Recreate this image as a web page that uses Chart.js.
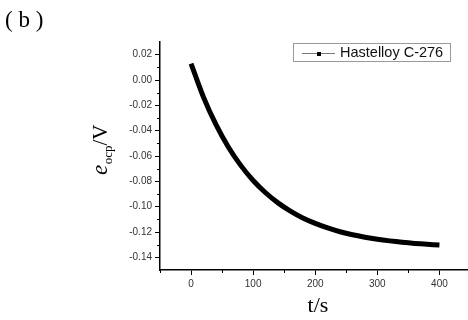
<!DOCTYPE html>
<html>
<head>
<meta charset="utf-8">
<script src="https://cdn.jsdelivr.net/npm/chart.js@4/dist/chart.umd.min.js"></script>
<style>
html,body{margin:0;padding:0;background:#fff;}
canvas{display:block;}
</style>
</head>
<body>
<canvas id="c" width="468" height="320"></canvas>
<script>
// Data
const seriesName = "Hastelloy C-276";
const tValues = [0, 20, 40, 60, 80, 100, 120, 140, 160, 180, 200, 220, 240, 260, 280, 300, 320, 340, 360, 380, 400];
const eValues = [0.013, -0.0135, -0.0351, -0.0529, -0.0674, -0.0793, -0.0890, -0.0970, -0.1035, -0.1089, -0.1132, -0.1168, -0.1198, -0.1222, -0.1241, -0.1257, -0.1270, -0.1281, -0.1290, -0.1297, -0.1303];
const xMajorTicks = [0, 100, 200, 300, 400];
const xMinorTicks = [-50, 50, 150, 250, 350];
const yMajorTicks = [0.02, 0.00, -0.02, -0.04, -0.06, -0.08, -0.10, -0.12, -0.14];
const yMinorTicks = [0.01, -0.01, -0.03, -0.05, -0.07, -0.09, -0.11, -0.13];
const xRange = [-50, 446];
const yRange = [-0.15, 0.03];
const xTitle = "t/s";
const panelLabel = "( b )";

const points = tValues.map((t, i) => ({x: t, y: eValues[i]}));

const decor = {
  id: 'decor',
  afterDraw(chart) {
    const ctx = chart.ctx;
    const xs = chart.scales.x, ys = chart.scales.y;
    const area = chart.chartArea;
    ctx.save();
    // minor ticks
    ctx.strokeStyle = '#000';
    ctx.lineWidth = 1;
    xMinorTicks.forEach(v => {
      const px = Math.round(xs.getPixelForValue(v)) + 0.5;
      ctx.beginPath(); ctx.moveTo(px, area.bottom); ctx.lineTo(px, area.bottom + 3); ctx.stroke();
    });
    yMinorTicks.forEach(v => {
      const py = Math.round(ys.getPixelForValue(v)) + 0.5;
      ctx.beginPath(); ctx.moveTo(area.left, py); ctx.lineTo(area.left - 3, py); ctx.stroke();
    });
    // panel label
    ctx.fillStyle = '#000';
    ctx.font = '23px "Liberation Serif", "DejaVu Serif", serif';
    ctx.textBaseline = 'alphabetic';
    ctx.textAlign = 'left';
    ctx.fillText(panelLabel, 5, 27);
    // x title
    ctx.font = '22px "Liberation Serif", serif';
    ctx.textAlign = 'center';
    ctx.fillText(xTitle, 318, 312);
    // y title rotated
    ctx.save();
    ctx.translate(107, 150);
    ctx.rotate(-Math.PI / 2);
    ctx.textAlign = 'left';
    const f1 = 'italic 23px "Liberation Serif", serif';
    const f2 = '13px "Liberation Serif", serif';
    const f3 = '21px "Liberation Serif", serif';
    ctx.font = f1; const w1 = ctx.measureText('e').width;
    ctx.font = f2; const w2 = ctx.measureText('ocp').width;
    ctx.font = f3; const w3 = ctx.measureText('/V').width;
    let x0 = -(w1 + w2 + w3) / 2;
    ctx.font = f1; ctx.fillText('e', x0, 0); x0 += w1 + 0.5;
    ctx.font = f2; ctx.fillText('ocp', x0, 5); x0 += w2;
    ctx.font = f3; ctx.fillText('/V', x0, 0);
    ctx.restore();
    // legend box
    ctx.strokeStyle = '#999';
    ctx.lineWidth = 1;
    ctx.strokeRect(293.5, 43.5, 157, 18);
    ctx.strokeStyle = '#777';
    ctx.beginPath(); ctx.moveTo(302, 53.5); ctx.lineTo(335, 53.5); ctx.stroke();
    ctx.fillStyle = '#000';
    ctx.fillRect(317, 52, 4, 4);
    ctx.font = '14.5px "Liberation Sans", Arial, sans-serif';
    ctx.textAlign = 'left';
    ctx.textBaseline = 'middle';
    ctx.fillStyle = '#111';
    ctx.fillText(seriesName, 340, 53);
    ctx.restore();
  }
};

new Chart(document.getElementById('c'), {
  type: 'line',
  data: {
    datasets: [{
      label: seriesName,
      data: points,
      borderColor: '#000',
      backgroundColor: '#000',
      borderWidth: 5,
      pointRadius: 0,
      tension: 0.3,
      fill: false,
      borderCapStyle: 'butt'
    }]
  },
  options: {
    responsive: false,
    animation: false,
    devicePixelRatio: 1,
    layout: {padding: {left: 0, top: 42, right: 0, bottom: 0}},
    plugins: {legend: {display: false}, tooltip: {enabled: false}},
    scales: {
      x: {
        type: 'linear',
        min: xRange[0], max: xRange[1],
        afterBuildTicks(s) { s.ticks = xMajorTicks.map(v => ({value: v})); },
        afterFit(s) { s.height = 50; },
        grid: {display: true, drawOnChartArea: false, drawTicks: true, tickLength: 5, color: '#000', lineWidth: 1},
        border: {display: true, color: '#000', width: 1.5},
        ticks: {padding: 3, color: '#333', maxRotation: 0, font: {family: '"Liberation Sans", Arial, sans-serif', size: 10}}
      },
      y: {
        type: 'linear',
        min: yRange[0], max: yRange[1],
        afterBuildTicks(s) { s.ticks = yMajorTicks.map(v => ({value: v})); },
        afterFit(s) { s.width = 160; },
        grid: {display: true, drawOnChartArea: false, drawTicks: true, tickLength: 5, color: '#000', lineWidth: 1},
        border: {display: true, color: '#000', width: 1.5},
        ticks: {padding: 3, color: '#333', font: {family: '"Liberation Sans", Arial, sans-serif', size: 10},
          callback: v => v.toFixed(2)}
      }
    }
  },
  plugins: [decor]
});
</script>
</body>
</html>
